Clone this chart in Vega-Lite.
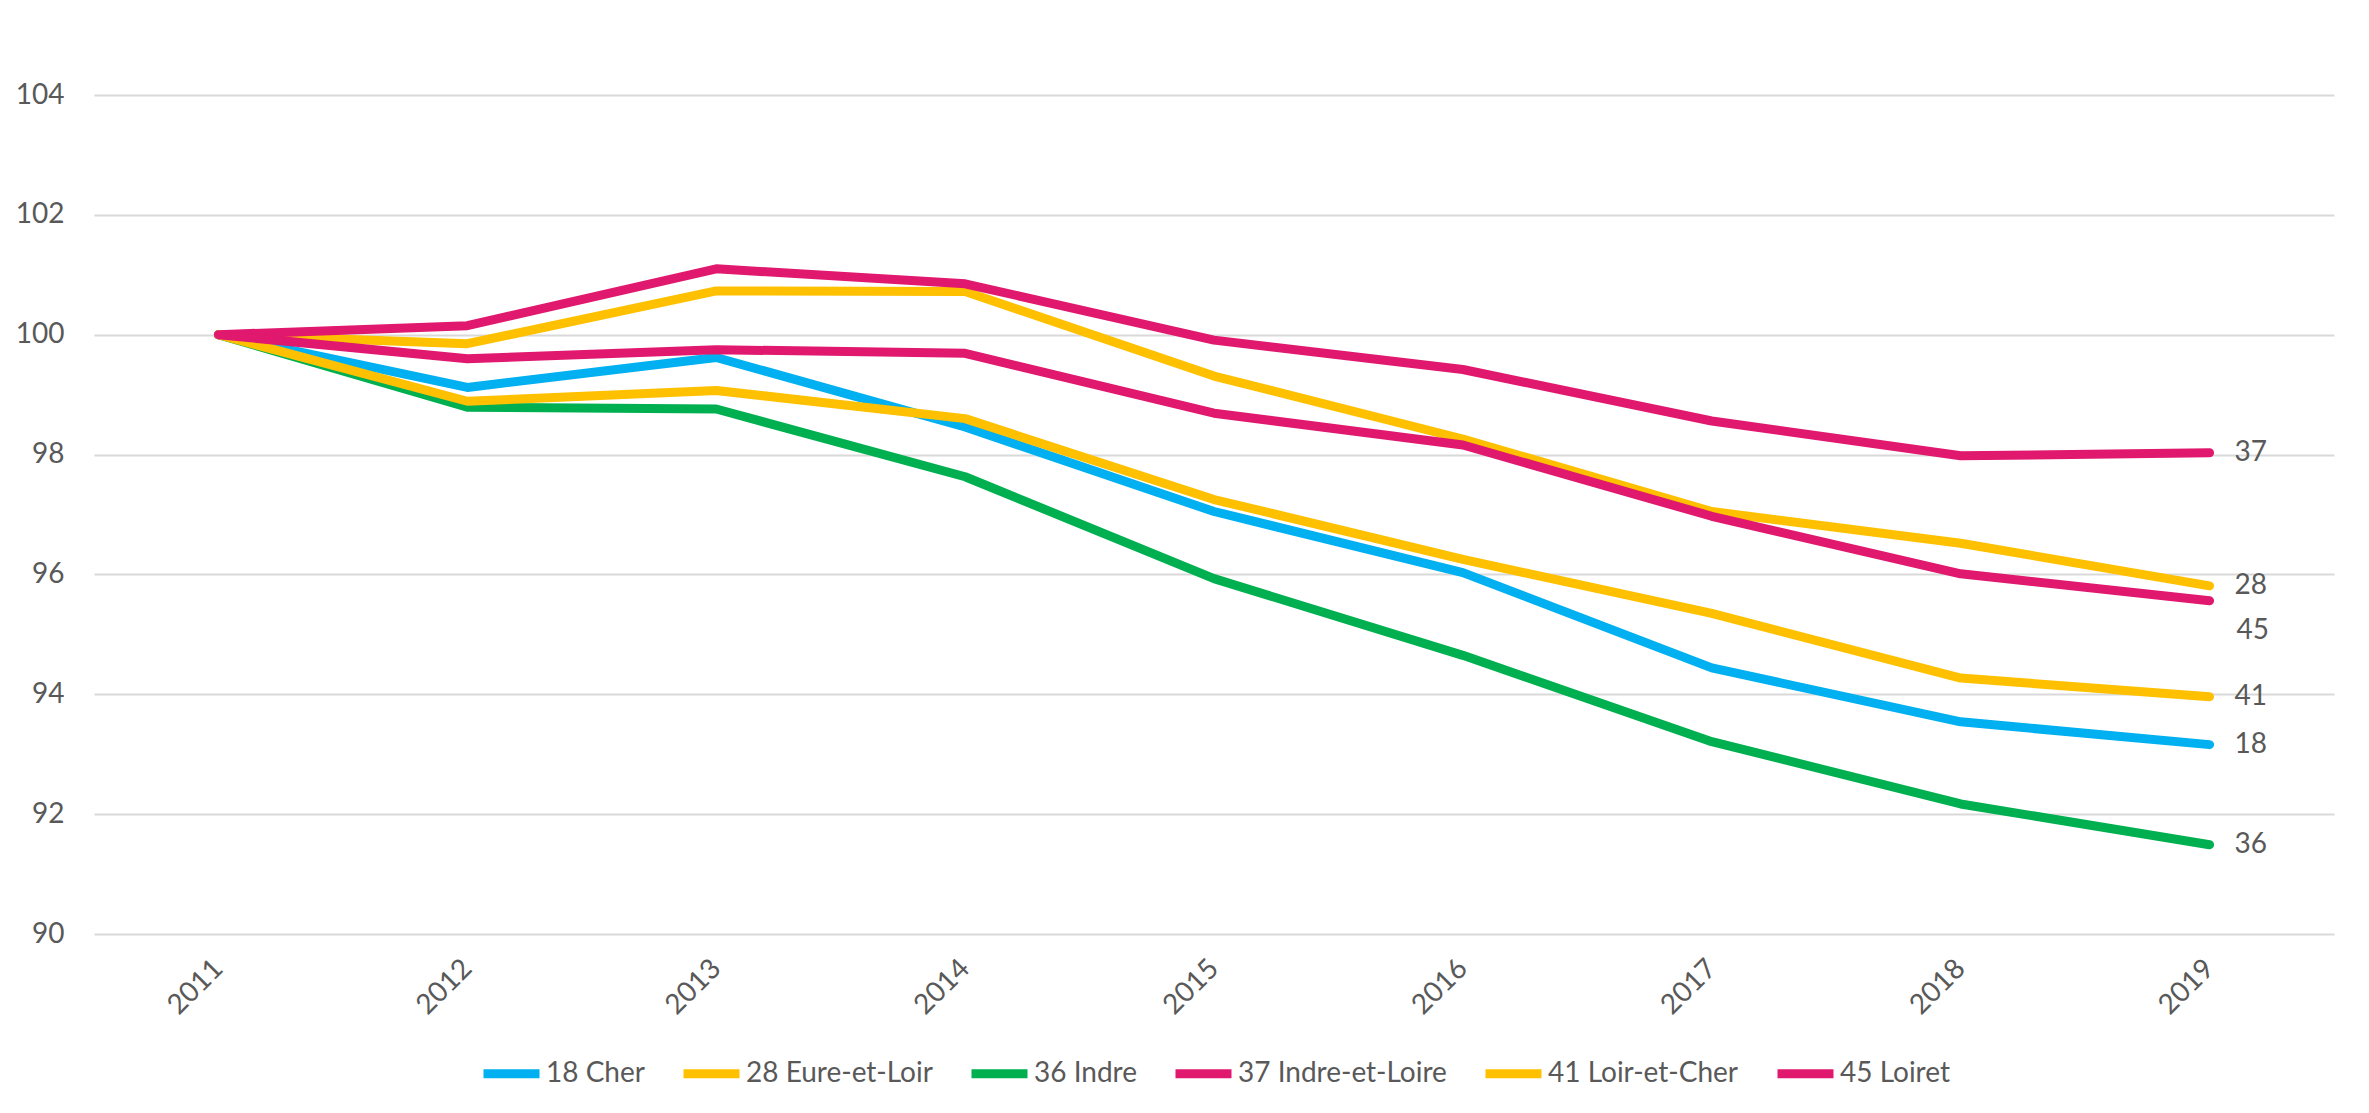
{
  "$schema": "https://vega.github.io/schema/vega-lite/v6.json",
  "width": 2240,
  "height": 839,
  "padding": {"left": 14, "top": 81, "right": 35, "bottom": 22},
  "background": "white",
  "config": {
    "view": {"stroke": null},
    "font": "Lato",
    "axis": {"labelFont": "Lato", "labelColor": "#595959", "labelFontSize": 28},
    "legend": {"layout": {"bottom": {"anchor": "middle"}}}
  },
  "data": {
    "values": [
      {"year": "2011", "dept": "18 Cher", "code": "18", "value": 100},
      {"year": "2012", "dept": "18 Cher", "code": "18", "value": 99.12},
      {"year": "2013", "dept": "18 Cher", "code": "18", "value": 99.62},
      {"year": "2014", "dept": "18 Cher", "code": "18", "value": 98.46},
      {"year": "2015", "dept": "18 Cher", "code": "18", "value": 97.05},
      {"year": "2016", "dept": "18 Cher", "code": "18", "value": 96.03},
      {"year": "2017", "dept": "18 Cher", "code": "18", "value": 94.44},
      {"year": "2018", "dept": "18 Cher", "code": "18", "value": 93.54},
      {"year": "2019", "dept": "18 Cher", "code": "18", "value": 93.16},
      {"year": "2011", "dept": "28 Eure-et-Loir", "code": "28", "value": 100},
      {"year": "2012", "dept": "28 Eure-et-Loir", "code": "28", "value": 99.85},
      {"year": "2013", "dept": "28 Eure-et-Loir", "code": "28", "value": 100.73},
      {"year": "2014", "dept": "28 Eure-et-Loir", "code": "28", "value": 100.72},
      {"year": "2015", "dept": "28 Eure-et-Loir", "code": "28", "value": 99.31},
      {"year": "2016", "dept": "28 Eure-et-Loir", "code": "28", "value": 98.26},
      {"year": "2017", "dept": "28 Eure-et-Loir", "code": "28", "value": 97.05},
      {"year": "2018", "dept": "28 Eure-et-Loir", "code": "28", "value": 96.52},
      {"year": "2019", "dept": "28 Eure-et-Loir", "code": "28", "value": 95.81},
      {"year": "2011", "dept": "36 Indre", "code": "36", "value": 100},
      {"year": "2012", "dept": "36 Indre", "code": "36", "value": 98.79},
      {"year": "2013", "dept": "36 Indre", "code": "36", "value": 98.76},
      {"year": "2014", "dept": "36 Indre", "code": "36", "value": 97.63},
      {"year": "2015", "dept": "36 Indre", "code": "36", "value": 95.93},
      {"year": "2016", "dept": "36 Indre", "code": "36", "value": 94.65},
      {"year": "2017", "dept": "36 Indre", "code": "36", "value": 93.21},
      {"year": "2018", "dept": "36 Indre", "code": "36", "value": 92.17},
      {"year": "2019", "dept": "36 Indre", "code": "36", "value": 91.49},
      {"year": "2011", "dept": "37 Indre-et-Loire", "code": "37", "value": 100},
      {"year": "2012", "dept": "37 Indre-et-Loire", "code": "37", "value": 100.15},
      {"year": "2013", "dept": "37 Indre-et-Loire", "code": "37", "value": 101.1},
      {"year": "2014", "dept": "37 Indre-et-Loire", "code": "37", "value": 100.85},
      {"year": "2015", "dept": "37 Indre-et-Loire", "code": "37", "value": 99.91},
      {"year": "2016", "dept": "37 Indre-et-Loire", "code": "37", "value": 99.42},
      {"year": "2017", "dept": "37 Indre-et-Loire", "code": "37", "value": 98.56},
      {"year": "2018", "dept": "37 Indre-et-Loire", "code": "37", "value": 97.98},
      {"year": "2019", "dept": "37 Indre-et-Loire", "code": "37", "value": 98.03},
      {"year": "2011", "dept": "41 Loir-et-Cher", "code": "41", "value": 100},
      {"year": "2012", "dept": "41 Loir-et-Cher", "code": "41", "value": 98.89},
      {"year": "2013", "dept": "41 Loir-et-Cher", "code": "41", "value": 99.07},
      {"year": "2014", "dept": "41 Loir-et-Cher", "code": "41", "value": 98.6},
      {"year": "2015", "dept": "41 Loir-et-Cher", "code": "41", "value": 97.25},
      {"year": "2016", "dept": "41 Loir-et-Cher", "code": "41", "value": 96.25},
      {"year": "2017", "dept": "41 Loir-et-Cher", "code": "41", "value": 95.35},
      {"year": "2018", "dept": "41 Loir-et-Cher", "code": "41", "value": 94.27},
      {"year": "2019", "dept": "41 Loir-et-Cher", "code": "41", "value": 93.96},
      {"year": "2011", "dept": "45 Loiret", "code": "45", "value": 100},
      {"year": "2012", "dept": "45 Loiret", "code": "45", "value": 99.6},
      {"year": "2013", "dept": "45 Loiret", "code": "45", "value": 99.75},
      {"year": "2014", "dept": "45 Loiret", "code": "45", "value": 99.69},
      {"year": "2015", "dept": "45 Loiret", "code": "45", "value": 98.69},
      {"year": "2016", "dept": "45 Loiret", "code": "45", "value": 98.16},
      {"year": "2017", "dept": "45 Loiret", "code": "45", "value": 96.97},
      {"year": "2018", "dept": "45 Loiret", "code": "45", "value": 96.01},
      {"year": "2019", "dept": "45 Loiret", "code": "45", "value": 95.56}
    ]
  },
  "encoding": {
    "x": {
      "field": "year",
      "type": "ordinal",
      "scale": {"type": "point", "padding": 0.5},
      "axis": {
        "title": null,
        "labelAngle": -45,
        "labelAlign": "right",
        "labelBaseline": "middle",
        "labelPadding": 30,
        "domain": false,
        "ticks": false,
        "grid": false
      }
    },
    "y": {
      "field": "value",
      "type": "quantitative",
      "scale": {"domain": [90, 104], "zero": false, "nice": false},
      "axis": {
        "title": null,
        "values": [90, 92, 94, 96, 98, 100, 102, 104],
        "domain": false,
        "ticks": false,
        "grid": true,
        "gridColor": "#D9D9D9",
        "gridWidth": 2,
        "labelPadding": 30,
        "minExtent": 80,
        "maxExtent": 80
      }
    }
  },
  "layer": [
    {
      "mark": {"type": "line", "strokeWidth": 9, "strokeCap": "round", "strokeJoin": "round"},
      "encoding": {
        "color": {
          "field": "dept",
          "type": "nominal",
          "scale": {
            "domain": ["18 Cher", "28 Eure-et-Loir", "36 Indre", "37 Indre-et-Loire", "41 Loir-et-Cher", "45 Loiret"],
            "range": ["#00B0F0", "#FFC000", "#00B050", "#E0186E", "#FFC000", "#E0186E"]
          },
          "legend": {
            "title": null,
            "orient": "bottom",
            "direction": "horizontal",
            "symbolType": "stroke",
            "symbolSize": 3136,
            "symbolStrokeWidth": 9,
            "labelFontSize": 28,
            "labelColor": "#595959",
            "labelFont": "Lato",
            "labelLimit": 0,
            "columnPadding": 20,
            "labelOffset": 2,
            "offset": 21
          }
        }
      }
    },
    {
      "transform": [{"filter": "datum.year == '2019' && datum.code != '45'"}],
      "mark": {"type": "text", "align": "left", "baseline": "middle", "dx": 25, "fontSize": 28, "font": "Lato", "color": "#595959"},
      "encoding": {"text": {"field": "code"}}
    },
    {
      "transform": [{"filter": "datum.year == '2019' && datum.code == '45'"}],
      "mark": {"type": "text", "align": "left", "baseline": "middle", "dx": 27, "dy": 30, "fontSize": 28, "font": "Lato", "color": "#595959"},
      "encoding": {"text": {"field": "code"}}
    }
  ]
}
